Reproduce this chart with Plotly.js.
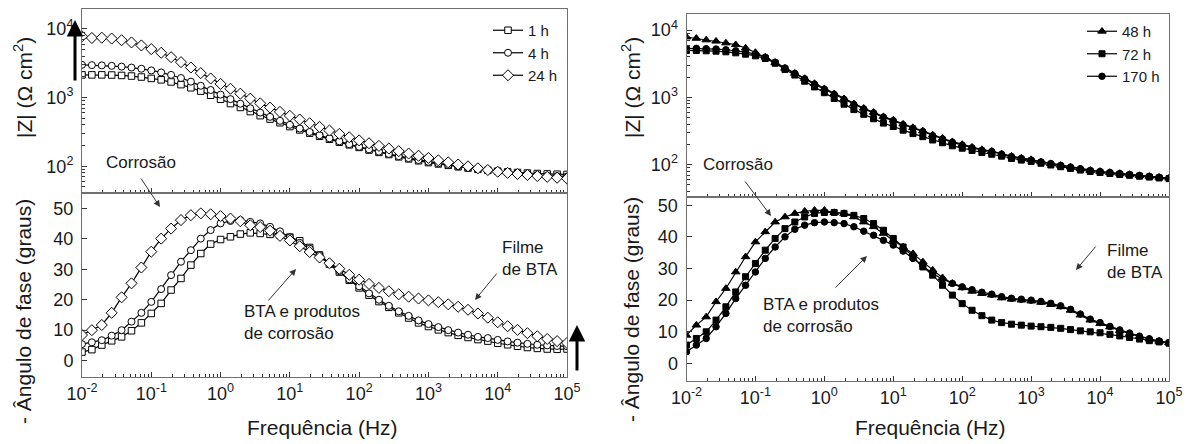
<!DOCTYPE html>
<html>
<head>
<meta charset="utf-8">
<script src="https://cdn.plot.ly/plotly-3.0.1.min.js"></script>
<style>html,body{margin:0;padding:0;background:#fff;}#chart{width:1194px;height:444px;}</style>
</head>
<body>
<div id="chart"></div>
<script>
// Frequency (Hz), 7 points per decade
const freq = [0.01, 0.01389, 0.01931, 0.02683, 0.03728, 0.05179, 0.07197,
  0.1, 0.1389, 0.1931, 0.2683, 0.3728, 0.5179, 0.7197,
  1, 1.389, 1.931, 2.683, 3.728, 5.179, 7.197,
  10, 13.89, 19.31, 26.83, 37.28, 51.79, 71.97,
  100, 138.9, 193.1, 268.3, 372.8, 517.9, 719.7,
  1000, 1389, 1931, 2683, 3728, 5179, 7197,
  10000, 13895, 19307, 26827, 37276, 51795, 71969, 100000];

// |Z| (Ohm cm2)
const z1h = [2140,2140,2140,2130,2100,2057,1992,1900,1812,1688,1542,1390,1242,1080,944,817,718,625,545,486,430,378,338,303,273,247,224,205,188,172,159,148,137,128,120,113,108,103,98.2,94.0,90.4,87.1,84.7,82.7,81,79.5,78.3,77.3,76.5,76];
const z4h = [3000,2966,2941,2895,2825,2737,2628,2483,2323,2140,1927,1705,1486,1288,1104,949,813,699,604,524,458,401,354,315,283,255,230,209,192,176,163,151,140,131,123,116,110,104,99.3,95.1,91.4,88.1,84.7,81.5,79,76.5,74.5,73,72,71];
const z24h = [7800,7380,7450,7230,6840,6350,5740,5080,4490,3875,3280,2740,2270,1897,1581,1343,1140,966,824,714,619,542,479,423,374,331,296,264,238,216,198,181,166,153,142,132,122,114,106,99.5,93.3,88.1,83.2,80,77,74.5,72,70,68,66];
const z48h = [7900,7550,7150,6850,6440,6080,5420,4660,3960,3300,2710,2280,1910,1610,1350,1135,955,804,690,601,518,460,401,357,318,277,247,220,200,182,168,159,145,134,126,119,110,103.5,97.7,92.3,87.1,82.2,79.3,76.5,74,71.5,69,67,65,63];
const z72h = [4990,4990,4930,4875,4765,4600,4395,4150,3785,3220,2610,2150,1742,1432,1175,966,793,659,561,482,415,370,326,290,261,233,212,191,176,163,152,143,134,124,117,112,105,98.9,93.3,88.1,83.2,79.3,76.6,74,71.5,69.5,67.5,65.5,63.5,62];
const z170h = [5360,5360,5300,5240,5115,4935,4710,4395,3963,3334,2735,2275,1888,1570,1321,1109,933,784,675,588,506,450,392,349,311,270,241,215,195,178,164,157,143,132,124,117,110,104,97.7,92.3,87.1,82.2,79.3,76.5,74,71.5,69,67,65,63];

// - phase angle (degrees)
const ph1h = [2.8,3.6,5.1,6.5,7.8,9.8,12.4,15.5,18.8,23.2,27.0,31.4,35.2,38.3,39.8,40.7,41.6,42.0,41.8,41.5,41.2,40.6,39.4,37.2,34.7,31.7,29.1,26.4,23.9,21.5,19.4,17.5,15.7,14.0,12.4,11.2,10.1,9.2,8.3,7.6,6.9,6.4,5.7,5.2,4.7,4.3,4.0,3.8,3.7,3.8];
const ph4h = [5.4,6.0,6.7,8.2,10.0,12.8,15.7,19.3,23.5,28.1,32.5,36.3,40.1,42.9,45.1,45.9,46.2,45.6,45.1,44.0,42.5,40.5,38.7,36.8,34.7,31.9,29.4,26.7,24.4,22.1,20.0,18.0,16.2,14.7,13.2,12.0,11.0,10.0,9.2,8.5,7.8,7.4,6.8,6.3,5.9,5.5,5.2,5.0,4.8,4.7];
const ph24h = [8.4,10.0,11.7,15.7,20.8,25.4,30.6,35.8,40.1,43.4,46.2,47.8,48.4,48.1,47.5,46.7,45.8,44.5,43.9,42.7,41.0,39.5,37.6,35.7,33.9,32.0,30.2,28.2,26.6,25.2,23.9,22.8,21.8,21.0,20.4,19.8,19.2,18.5,17.7,16.7,15.5,14.1,12.6,11.3,10.1,9.0,8.0,7.1,6.4,5.8];
const ph48h = [8.9,12.1,14.7,19.5,23.7,28.9,33.7,38.4,41.6,44.7,46.3,47.4,48.1,48.4,48.4,47.7,47.4,46.3,44.7,43.2,41.1,38.9,36.8,34.7,32.1,29.5,27.1,25.3,23.9,22.8,22.1,21.6,20.7,20.3,20.0,19.7,19.3,18.6,17.9,16.8,15.3,13.7,12.6,11.5,10.4,9.4,8.5,7.7,7.0,6.5];
const ph72h = [5.8,7.9,10.0,13.7,17.9,22.6,27.4,31.6,35.8,39.5,42.6,44.7,46.3,47.4,47.7,47.7,47.4,46.8,45.8,44.2,42.1,39.5,36.8,33.7,30.5,27.9,24.7,21.6,18.9,16.8,15.1,13.7,12.9,12.4,12.1,11.8,11.6,11.4,11.1,10.7,10.3,10.0,9.7,9.2,8.7,8.2,7.7,7.2,6.8,6.4];
const ph170h = [3.7,5.8,7.9,11.6,15.8,20.5,24.7,28.9,33.2,36.8,40.0,42.4,43.7,44.5,44.7,44.5,44.2,43.2,41.8,40.5,38.9,37.4,35.5,33.2,30.8,28.4,26.6,25.3,24.2,23.3,22.5,21.9,21.1,20.6,20.3,20.0,19.6,19.0,18.2,17.1,15.6,14.0,12.9,11.7,10.6,9.6,8.6,7.8,7.1,6.6];

// Labels
const seriesNamesLeft = ['1 h', '4 h', '24 h'];
const seriesNamesRight = ['48 h', '72 h', '170 h'];
const xTickVals = [0.01, 0.1, 1, 10, 100, 1000, 10000, 100000];
const xTickText = ['10<sup>-2</sup>','10<sup>-1</sup>','10<sup>0</sup>','10<sup>1</sup>','10<sup>2</sup>','10<sup>3</sup>','10<sup>4</sup>','10<sup>5</sup>'];
const zTickVals = [100, 1000, 10000];
const zTickText = ['10<sup>2</sup>','10<sup>3</sup>','10<sup>4</sup>'];
const phTickVals = [0, 10, 20, 30, 40, 50];
const xTitle = 'Frequência (Hz)';
const zTitle = '|Z| (Ω cm<sup>2</sup>)';
const phTitle = '- Ângulo de fase (graus)';

// ---- helpers ----
const W = 1194, H = 444;
const px = x => x / W;
const py = y => 1 - y / H;
function minorLog(lo, hi) {
  const v = [];
  for (let e = lo; e < hi; e++) for (let m = 2; m <= 9; m++) v.push(m * Math.pow(10, e));
  return v;
}
const FONT = 'Liberation Sans, Arial, sans-serif';
const LINE = '#707070', TICK = '#333';

function xAxis(dom, anchor, labels) {
  return {
    type: 'log', domain: dom, anchor: anchor, range: [-2, 5],
    tickmode: 'array', tickvals: xTickVals, ticktext: xTickText,
    showticklabels: labels, ticks: 'inside', ticklen: 5, tickcolor: TICK, tickwidth: 1,
    minor: {tickmode: 'array', tickvals: minorLog(-2, 5), ticks: 'inside', ticklen: 3, tickcolor: TICK},
    showline: true, linecolor: LINE, linewidth: 1, mirror: true,
    showgrid: false, zeroline: false, fixedrange: true,
    tickfont: {family: FONT, size: 18, color: '#1a1a1a'}
  };
}
function zAxis(dom, anchor, rng) {
  return {
    type: 'log', domain: dom, anchor: anchor, range: rng,
    tickmode: 'array', tickvals: zTickVals, ticktext: zTickText,
    ticks: 'inside', ticklen: 5, tickcolor: TICK,
    minor: {tickmode: 'array', tickvals: minorLog(1, 4), ticks: 'inside', ticklen: 3, tickcolor: TICK},
    showline: true, linecolor: LINE, linewidth: 1, mirror: true,
    showgrid: false, zeroline: false, fixedrange: true, ticklabelstandoff: 4,
    tickfont: {family: FONT, size: 18, color: '#1a1a1a'}
  };
}
function phAxis(dom, anchor, rng) {
  return {
    type: 'linear', domain: dom, anchor: anchor, range: rng,
    tickmode: 'array', tickvals: phTickVals,
    ticks: 'inside', ticklen: 5, tickcolor: TICK,
    showline: true, linecolor: LINE, linewidth: 1, mirror: true,
    showgrid: false, zeroline: false, fixedrange: true, ticklabelstandoff: 4,
    tickfont: {family: FONT, size: 18, color: '#1a1a1a'}
  };
}

const leftX = [px(82), px(567)];
const rightX = [px(686.5), px(1169)];
const leftTopY = [py(193), py(9)], leftBotY = [py(377), py(193)];
const rightTopY = [py(197), py(14)], rightBotY = [py(381), py(197)];

function tr(x, y, name, xa, ya, sym, size, fill, legend, show) {
  return {
    x: x, y: y, name: name, xaxis: xa, yaxis: ya, type: 'scatter', mode: 'lines+markers',
    line: {color: '#000', width: 1.2},
    marker: {symbol: sym, size: size, color: fill, line: {color: '#000', width: 1}},
    legend: legend, showlegend: show
  };
}

const data = [
  tr(freq, z1h, seriesNamesLeft[0], 'x', 'y', 'square', 6.5, '#fff', 'legend', true),
  tr(freq, z4h, seriesNamesLeft[1], 'x', 'y', 'circle', 7, '#fff', 'legend', true),
  tr(freq, z24h, seriesNamesLeft[2], 'x', 'y', 'diamond', 8.5, '#fff', 'legend', true),
  tr(freq, ph1h, seriesNamesLeft[0], 'x2', 'y2', 'square', 6.5, '#fff', 'legend', false),
  tr(freq, ph4h, seriesNamesLeft[1], 'x2', 'y2', 'circle', 7, '#fff', 'legend', false),
  tr(freq, ph24h, seriesNamesLeft[2], 'x2', 'y2', 'diamond', 8.5, '#fff', 'legend', false),
  tr(freq, z48h, seriesNamesRight[0], 'x3', 'y3', 'triangle-up', 7.5, '#000', 'legend2', true),
  tr(freq, z72h, seriesNamesRight[1], 'x3', 'y3', 'square', 6, '#000', 'legend2', true),
  tr(freq, z170h, seriesNamesRight[2], 'x3', 'y3', 'circle', 6.5, '#000', 'legend2', true),
  tr(freq, ph48h, seriesNamesRight[0], 'x4', 'y4', 'triangle-up', 7.5, '#000', 'legend2', false),
  tr(freq, ph72h, seriesNamesRight[1], 'x4', 'y4', 'square', 6, '#000', 'legend2', false),
  tr(freq, ph170h, seriesNamesRight[2], 'x4', 'y4', 'circle', 6.5, '#000', 'legend2', false)
];

function label(text, x, y, opts) {
  return Object.assign({
    text: text, xref: 'paper', yref: 'paper', x: px(x), y: py(y),
    showarrow: false, font: {family: FONT, size: 17, color: '#1a1a1a'},
    xanchor: 'center', yanchor: 'middle'
  }, opts || {});
}
function arrow(hx, hy, tx, ty, w, col) {
  return {
    text: '', xref: 'paper', yref: 'paper', x: px(hx), y: py(hy),
    ax: tx - hx, ay: ty - hy, axref: 'pixel', ayref: 'pixel',
    showarrow: true, arrowhead: 2, arrowsize: w > 2 ? 1.1 : 1.3, arrowwidth: w, arrowcolor: col || '#333',
    standoff: 0, startstandoff: 0
  };
}
const titleFont = {family: FONT, size: 21, color: '#1a1a1a'};

const annotations = [
  label(zTitle, 23, 88, {textangle: -90, font: titleFont}),
  label(phTitle, 23, 312, {textangle: -90, font: titleFont}),
  label(xTitle, 322, 427, {font: titleFont}),
  label(zTitle, 631, 88, {textangle: -90, font: titleFont}),
  label(phTitle, 631, 310, {textangle: -90, font: titleFont}),
  label(xTitle, 930, 427, {font: titleFont}),
  // left panel notes
  label('Corrosão', 141, 162),
  label('BTA e produtos<br>de corrosão', 242, 322, {xanchor: 'left', align: 'left'}),
  label('Filme<br>de BTA', 500, 258, {xanchor: 'left', align: 'left'}),
  arrow(160, 207, 140, 177, 1),
  arrow(296, 269, 267, 302, 1),
  arrow(475, 300, 498, 272, 1),
  arrow(75, 20, 75, 82, 3, '#000'),
  arrow(577, 325, 577, 372, 3, '#000'),
  // right panel notes
  label('Corrosão', 738, 164),
  label('BTA e produtos<br>de corrosão', 761, 315, {xanchor: 'left', align: 'left'}),
  label('Filme<br>de BTA', 1105, 261, {xanchor: 'left', align: 'left'}),
  arrow(771, 216, 744, 180, 1),
  arrow(867, 256, 834, 289, 1),
  arrow(1076, 270, 1097, 245, 1)
];

const legendBase = {
  xanchor: 'left', yanchor: 'top', bgcolor: 'rgba(0,0,0,0)', borderwidth: 0,
  font: {family: FONT, size: 15, color: '#1a1a1a'}, tracegroupgap: 0, itemwidth: 30
};

const layout = {
  width: W, height: H, margin: {l: 0, r: 0, t: 0, b: 0},
  paper_bgcolor: '#fff', plot_bgcolor: '#fff',
  xaxis: xAxis(leftX, 'y', false),
  yaxis: zAxis(leftTopY, 'x', [1.61, 4.29]),
  xaxis2: xAxis(leftX, 'y2', true),
  yaxis2: phAxis(leftBotY, 'x2', [-5.4, 55.1]),
  xaxis3: xAxis(rightX, 'y3', false),
  yaxis3: zAxis(rightTopY, 'x3', [1.52, 4.24]),
  xaxis4: xAxis(rightX, 'y4', true),
  yaxis4: phAxis(rightBotY, 'x4', [-5.55, 52.6]),
  legend: Object.assign({x: px(488), y: py(14)}, legendBase),
  legend2: Object.assign({x: px(1082), y: py(15)}, legendBase),
  annotations: annotations,
  showlegend: true
};

Plotly.newPlot('chart', data, layout, {displayModeBar: false, staticPlot: true});
</script>
</body>
</html>
